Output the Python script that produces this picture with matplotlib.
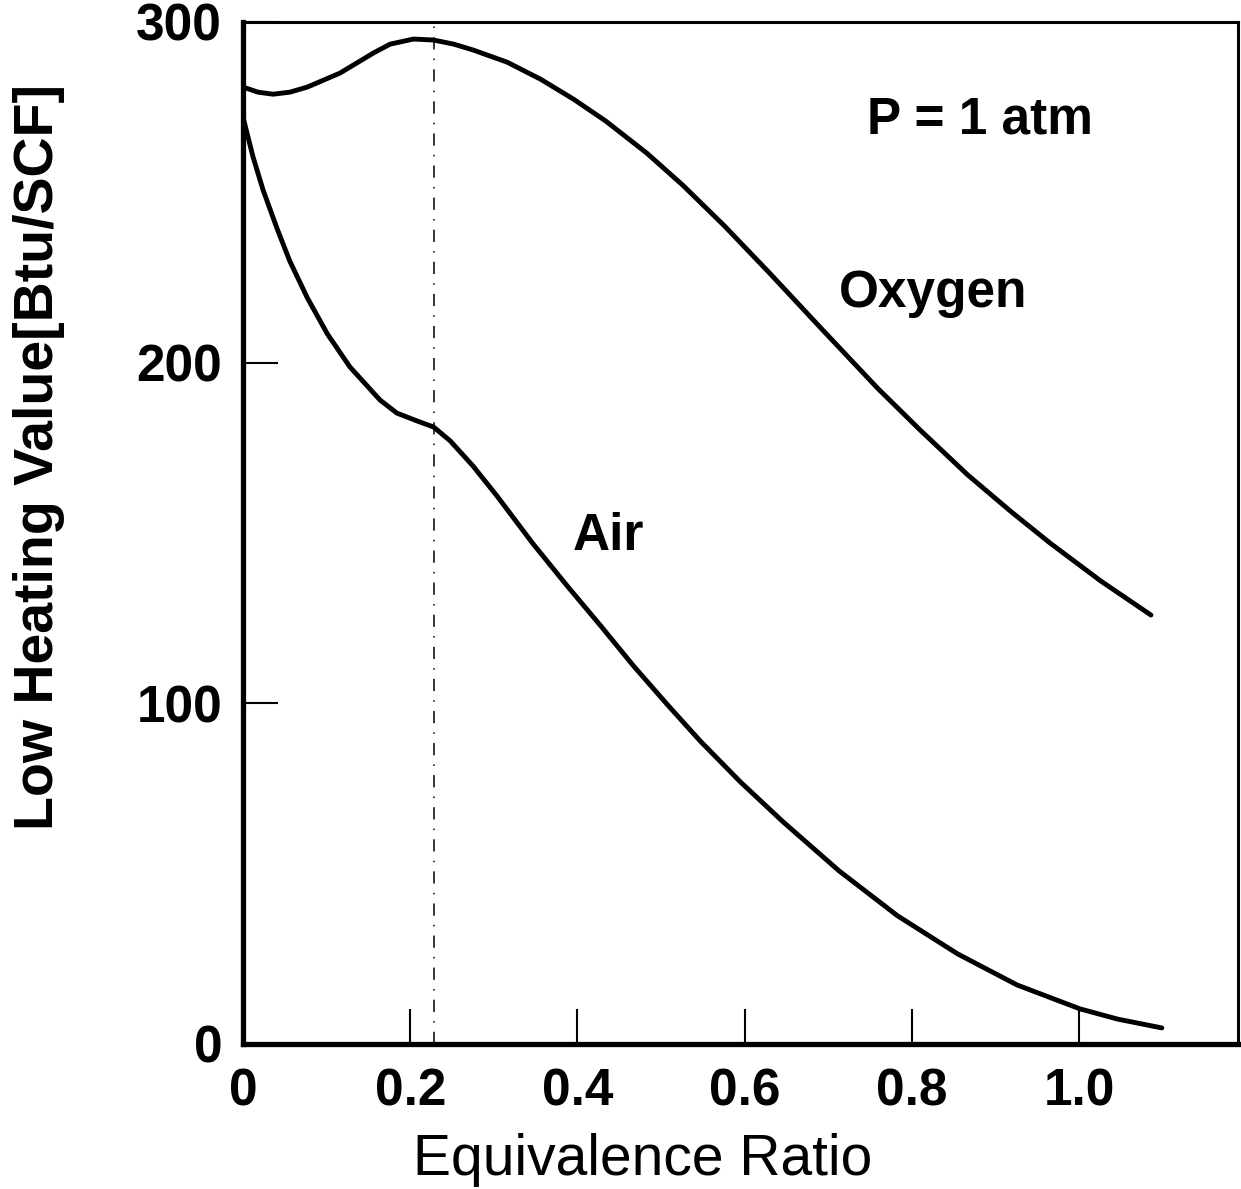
"""Low heating value vs equivalence ratio (oxygen and air), P = 1 atm."""

import matplotlib
matplotlib.use("Agg")
import matplotlib.pyplot as plt

## Data
oxygen_x = [0.0, 0.018, 0.036, 0.056, 0.077, 0.116, 0.156, 0.176, 0.204, 0.228,
            0.252, 0.275, 0.316, 0.356, 0.395, 0.434, 0.483, 0.526, 0.576, 0.631,
            0.691, 0.759, 0.810, 0.867, 0.919, 0.965, 1.026, 1.086]
oxygen_y = [280.9, 279.4, 278.8, 279.4, 280.9, 285.0, 290.9, 293.5, 295.0, 294.7,
            293.5, 291.8, 288.2, 283.2, 277.4, 270.9, 261.5, 252.1, 240.1, 226.0,
            210.2, 192.5, 180.2, 167.0, 156.2, 147.1, 135.9, 125.9]

air_x = [0.0, 0.012, 0.024, 0.041, 0.056, 0.077, 0.101, 0.128, 0.164, 0.184, 0.208,
         0.228, 0.248, 0.275, 0.304, 0.347, 0.388, 0.428, 0.467, 0.508, 0.547,
         0.595, 0.646, 0.713, 0.783, 0.855, 0.926, 1.001, 1.046, 1.099]
air_y = [272.1, 260.4, 250.7, 239.2, 229.8, 219.0, 208.4, 198.7, 189.0, 185.2, 182.9,
         181.1, 177.0, 169.7, 160.8, 146.8, 134.4, 122.7, 111.0, 99.5, 88.9,
         76.9, 65.2, 50.8, 37.6, 26.4, 17.3, 10.3, 7.3, 4.7]

marker_x = 0.228  # dash-dot reference line

x_ticks = [0, 0.2, 0.4, 0.6, 0.8, 1.0]
x_tick_labels = ["0", "0.2", "0.4", "0.6", "0.8", "1.0"]
y_ticks = [0, 100, 200, 300]
y_tick_labels = ["0", "100", "200", "300"]

## Style
SANS = ["Liberation Sans", "DejaVu Sans"]
LINE_W = 3.5

fig = plt.figure(figsize=(12.41, 11.89), dpi=100)
ax = fig.add_axes([0.1958, 0.122, 0.8017, 0.8595])

ax.plot(oxygen_x, oxygen_y, color="black", lw=LINE_W, solid_capstyle="round",
        solid_joinstyle="round")
ax.plot(air_x, air_y, color="black", lw=LINE_W, solid_capstyle="round",
        solid_joinstyle="round")
ax.axvline(marker_x, color="black", lw=1.1, ls=(0, (8, 6, 1, 6)))

ax.set_xlim(0, 1.19)
ax.set_ylim(0, 300)

ax.set_xticks(x_ticks)
ax.set_xticklabels(x_tick_labels)
ax.set_yticks(y_ticks)
ax.set_yticklabels(y_tick_labels)
ax.tick_params(direction="in", length=25, width=1.5, color="black")
ax.tick_params(axis="x", pad=17)
ax.tick_params(axis="y", pad=15)
for lab in ax.get_xticklabels() + ax.get_yticklabels():
    lab.set_family(SANS)
    lab.set_fontsize(37)
    lab.set_fontweight("bold")

for side in ["left", "bottom"]:
    ax.spines[side].set_linewidth(3.8)
for side in ["top", "right"]:
    ax.spines[side].set_linewidth(2.2)

ax.set_xlabel("Equivalence Ratio", family=SANS, fontsize=41, va="baseline")
ax.xaxis.set_label_coords(0.402, -0.128)
ax.set_ylabel("Low Heating Value[Btu/SCF]", family=SANS, fontsize=40,
              fontweight="bold", va="center")
ax.yaxis.set_label_coords(-0.205, 0.574)

ax.text(0.881, 267.4, "P = 1 atm", family=SANS, fontsize=37, fontweight="bold",
        ha="center", va="baseline")
ax.text(0.826, 216.3, "Oxygen", family=SANS, fontsize=37, fontweight="bold",
        ha="center", va="baseline")
ax.text(0.4365, 145, "Air", family=SANS, fontsize=37, fontweight="bold",
        ha="center", va="baseline")

fig.savefig("out.png", dpi=100)
